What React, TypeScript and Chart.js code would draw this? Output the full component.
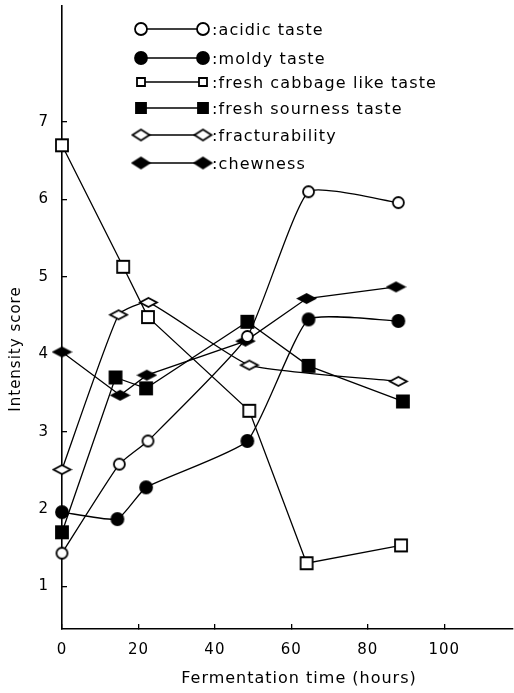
import React, { useEffect, useRef } from 'react';
import { Chart, registerables } from 'chart.js';

Chart.register(...registerables);

// ---- data ----
const seriesLabels = [
  'acidic taste',
  'moldy taste',
  'fresh cabbage like taste',
  'fresh sourness taste',
  'fracturability',
  'chewness',
];

const acidicX = [0, 15, 22.5, 48.5, 64.5, 88];
const acidicY = [1.43, 2.58, 2.88, 4.23, 6.1, 5.96];

const moldyX = [0, 14.5, 22, 48.5, 64.5, 88];
const moldyY = [1.96, 1.87, 2.28, 2.88, 4.45, 4.43];

const cabbageX = [0, 16, 22.5, 49, 64, 88.7];
const cabbageY = [6.7, 5.13, 4.48, 3.27, 1.3, 1.53];

const sournessX = [0, 14, 22, 48.5, 64.5, 89.2];
const sournessY = [1.7, 3.7, 3.56, 4.42, 3.85, 3.39];

const fracturabilityX = [0, 14.8, 22.6, 49, 88];
const fracturabilityY = [2.51, 4.51, 4.67, 3.86, 3.65];

const chewnessX = [0, 15.2, 22.2, 48, 64, 87.4];
const chewnessY = [4.03, 3.47, 3.73, 4.17, 4.72, 4.87];

const xTicks = [0, 20, 40, 60, 80, 100];
const yTicks = [1, 2, 3, 4, 5, 6, 7];
const xTitle = 'Fermentation time (hours)';
const yTitle = 'Intensity score';

// ---- marker images ----
type Shape = 'circle' | 'square' | 'diamond';

function makeMarker(shape: Shape, filled: boolean, w: number, h: number): HTMLCanvasElement {
  const pad = 2;
  const c = document.createElement('canvas');
  c.width = Math.ceil(w + pad * 2);
  c.height = Math.ceil(h + pad * 2);
  const ctx = c.getContext('2d')!;
  const cx = c.width / 2;
  const cy = c.height / 2;
  ctx.beginPath();
  if (shape === 'circle') {
    ctx.arc(cx, cy, w / 2, 0, Math.PI * 2);
  } else if (shape === 'square') {
    ctx.rect(cx - w / 2, cy - h / 2, w, h);
  } else {
    ctx.moveTo(cx - w / 2, cy);
    ctx.lineTo(cx, cy - h / 2);
    ctx.lineTo(cx + w / 2, cy);
    ctx.lineTo(cx, cy + h / 2);
    ctx.closePath();
  }
  ctx.fillStyle = filled ? '#000' : '#fff';
  ctx.fill();
  ctx.lineWidth = 1.8;
  ctx.strokeStyle = '#000';
  ctx.stroke();
  return c;
}

const zip = (xs: number[], ys: number[]) => xs.map((x, i) => ({ x, y: ys[i] }));

export default function App() {
  const ref = useRef<HTMLCanvasElement | null>(null);

  useEffect(() => {
    if (!ref.current) return;

    const styles: [Shape, boolean, number, number, number, number][] = [
      ['circle', false, 11, 11, 12, 12],
      ['circle', true, 12, 12, 12, 12],
      ['square', false, 12, 12, 8, 8],
      ['square', true, 12, 12, 10, 10],
      ['diamond', false, 17, 9, 17, 11],
      ['diamond', true, 17, 9, 17, 11],
    ];
    const pointImgs = styles.map(([s, f, w, h]) => makeMarker(s, f, w, h));
    const legendImgs = styles.map(([s, f, , , w, h]) => makeMarker(s, f, w, h));

    const xs = [acidicX, moldyX, cabbageX, sournessX, fracturabilityX, chewnessX];
    const ys = [acidicY, moldyY, cabbageY, sournessY, fracturabilityY, chewnessY];
    const tensions = [0.15, 0.15, 0, 0, 0.15, 0];

    const datasets = seriesLabels.map((label, i) => ({
      label,
      data: zip(xs[i], ys[i]),
      borderColor: '#000',
      backgroundColor: '#000',
      borderWidth: 1.3,
      tension: tensions[i],
      fill: false,
      pointStyle: pointImgs[i] as any,
      pointRadius: 6,
      clip: false as any,
    }));

    const legendRows = [29, 58, 82, 108, 135, 163];

    const customPlugin = {
      id: 'custom',
      beforeDraw(chart: any) {
        chart.ctx.letterSpacing = '1px';
      },
      afterDraw(chart: any) {
        const ctx: CanvasRenderingContext2D = chart.ctx;
        ctx.save();
        // legend
        ctx.letterSpacing = '1.1px';
        ctx.font = '16px "DejaVu Sans"';
        ctx.fillStyle = '#000';
        ctx.textBaseline = 'middle';
        ctx.textAlign = 'left';
        seriesLabels.forEach((label, i) => {
          const y = legendRows[i];
          const x1 = 141;
          const x2 = 203;
          ctx.beginPath();
          ctx.strokeStyle = '#000';
          ctx.lineWidth = 1.3;
          ctx.moveTo(x1, y);
          ctx.lineTo(x2, y);
          ctx.stroke();
          const img = legendImgs[i];
          ctx.drawImage(img, x1 - img.width / 2, y - img.height / 2);
          ctx.drawImage(img, x2 - img.width / 2, y - img.height / 2);
          ctx.fillText(':' + label, 212, y + 2);
        });
        // axis titles
        ctx.letterSpacing = '1px';
        ctx.font = '16px "DejaVu Sans"';
        ctx.textAlign = 'center';
        ctx.fillText(xTitle, 299, 679);
        ctx.translate(16, 349);
        ctx.rotate(-Math.PI / 2);
        ctx.font = '15px "DejaVu Sans"';
        ctx.fillText(yTitle, 0, 0);
        ctx.restore();
      },
    };

    const tickFont = { family: 'DejaVu Sans', size: 15 };

    const chart = new Chart(ref.current, {
      type: 'line',
      data: { datasets: datasets as any },
      options: {
        animation: false,
        responsive: false,
        layout: { autoPadding: false, padding: { top: 6, right: 1, left: 0, bottom: 0 } },
        plugins: {
          legend: { display: false },
          tooltip: { enabled: false },
        },
        scales: {
          x: {
            type: 'linear',
            min: 0,
            max: 118,
            afterBuildTicks: (s: any) => {
              s.ticks = xTicks.map((v) => ({ value: v }));
            },
            afterFit: (s: any) => {
              s.height = 64;
              s.paddingLeft = 0;
              s.paddingRight = 0;
            },
            grid: { drawOnChartArea: false, tickLength: -5, color: '#000', lineWidth: 1.3 },
            border: { color: '#000', width: 1.6 },
            ticks: { color: '#000', font: tickFont, padding: 17, maxRotation: 0, autoSkip: false },
          },
          y: {
            type: 'linear',
            min: 0.45,
            max: 8.5,
            afterBuildTicks: (s: any) => {
              s.ticks = yTicks.map((v) => ({ value: v }));
            },
            afterFit: (s: any) => {
              s.width = 62;
              s.paddingTop = 0;
              s.paddingBottom = 0;
            },
            grid: { drawOnChartArea: false, tickLength: -5, color: '#000', lineWidth: 1.3 },
            border: { color: '#000', width: 1.6 },
            ticks: { color: '#000', font: tickFont, padding: 18, autoSkip: false },
          },
        },
      },
      plugins: [customPlugin],
    });

    return () => chart.destroy();
  }, []);

  return (
    <div style={{ position: 'fixed', left: 0, top: 0, width: 514, height: 693, background: '#fff' }}>
      <canvas ref={ref} width={514} height={693} style={{ display: 'block' }} />
    </div>
  );
}
